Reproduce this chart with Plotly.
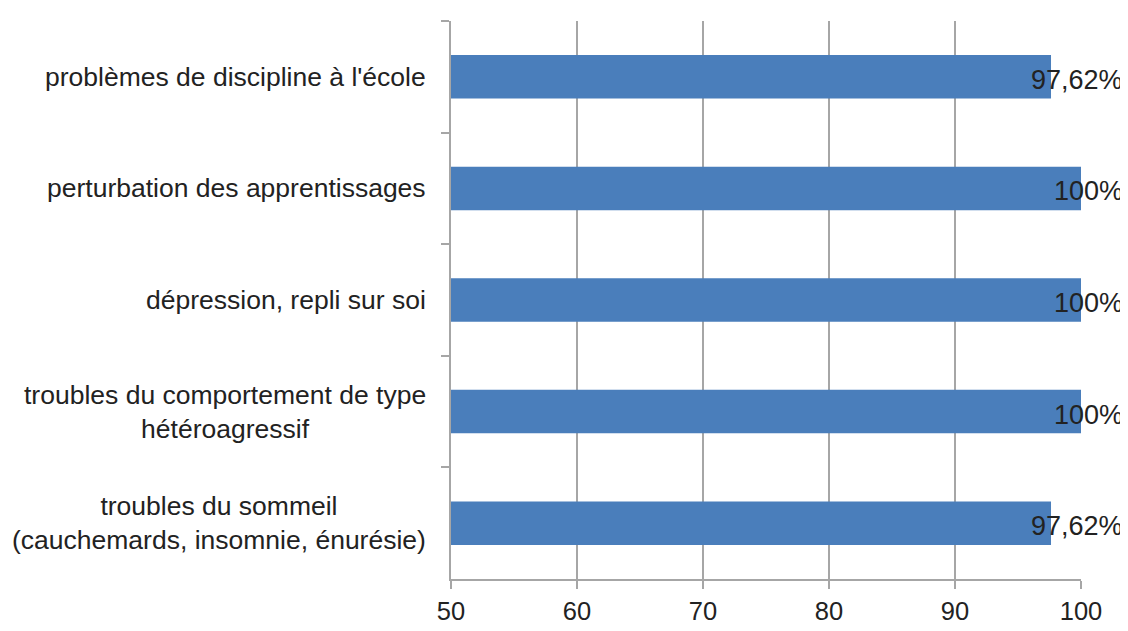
import plotly.graph_objects as go

categories = [
    "problèmes de discipline à l'école",
    "perturbation des apprentissages",
    "dépression, repli sur soi",
    "troubles du comportement de type<br>hétéroagressif",
    "troubles du sommeil<br>(cauchemards, insomnie, énurésie)",
]
values = [97.62, 100, 100, 100, 97.62]
value_labels = ["97,62%", "100%", "100%", "100%", "97,62%"]
x_ticks = [50, 60, 70, 80, 90, 100]

FONT = "Liberation Sans, Arial, sans-serif"
GRID = "#a6a6a6"
TXT = "#222222"

fig = go.Figure()
fig.add_trace(go.Bar(
    y=categories, x=values, orientation="h",
    marker=dict(color="#4a7ebb", line=dict(width=0)),
    hoverinfo="x+y",
))

for c, v, t in zip(categories, values, value_labels):
    # data labels pushed inside the chart area (right-aligned at the chart edge)
    fig.add_annotation(x=1, y=c, xref="paper", yref="y", text=t, showarrow=False,
                       xanchor="right", yanchor="middle", xshift=44, yshift=-3,
                       font=dict(family=FONT, size=27, color=TXT))
    fig.add_annotation(x=0, y=c, xref="paper", yref="y", text=c, showarrow=False,
                       xanchor="right", yanchor="middle", xshift=-23, align="center",
                       font=dict(family=FONT, size=26.5, color=TXT))

fig.update_layout(
    width=1120, height=623,
    margin=dict(l=443, r=47, t=13, b=52),
    paper_bgcolor="white", plot_bgcolor="white",
    bargap=0.61,
    showlegend=False,
    font=dict(family=FONT, color=TXT),
)
fig.update_xaxes(
    range=[50, 100], tickvals=x_ticks, ticktext=[str(v) for v in x_ticks],
    showgrid=True, gridcolor=GRID, gridwidth=2,
    showline=True, linecolor=GRID, linewidth=2,
    ticks="outside", ticklen=8, tickwidth=2, tickcolor=GRID,
    tickfont=dict(family=FONT, size=25.5, color=TXT),
    automargin=False,
    zeroline=False,
)
fig.update_yaxes(
    type="category", autorange="reversed",
    showticklabels=False,
    showgrid=False,
    showline=True, linecolor=GRID, linewidth=2,
    ticks="outside", ticklen=8, tickwidth=2, tickcolor=GRID,
    tickson="boundaries",
    automargin=False,
    zeroline=False,
)

fig.write_html("out.html")
